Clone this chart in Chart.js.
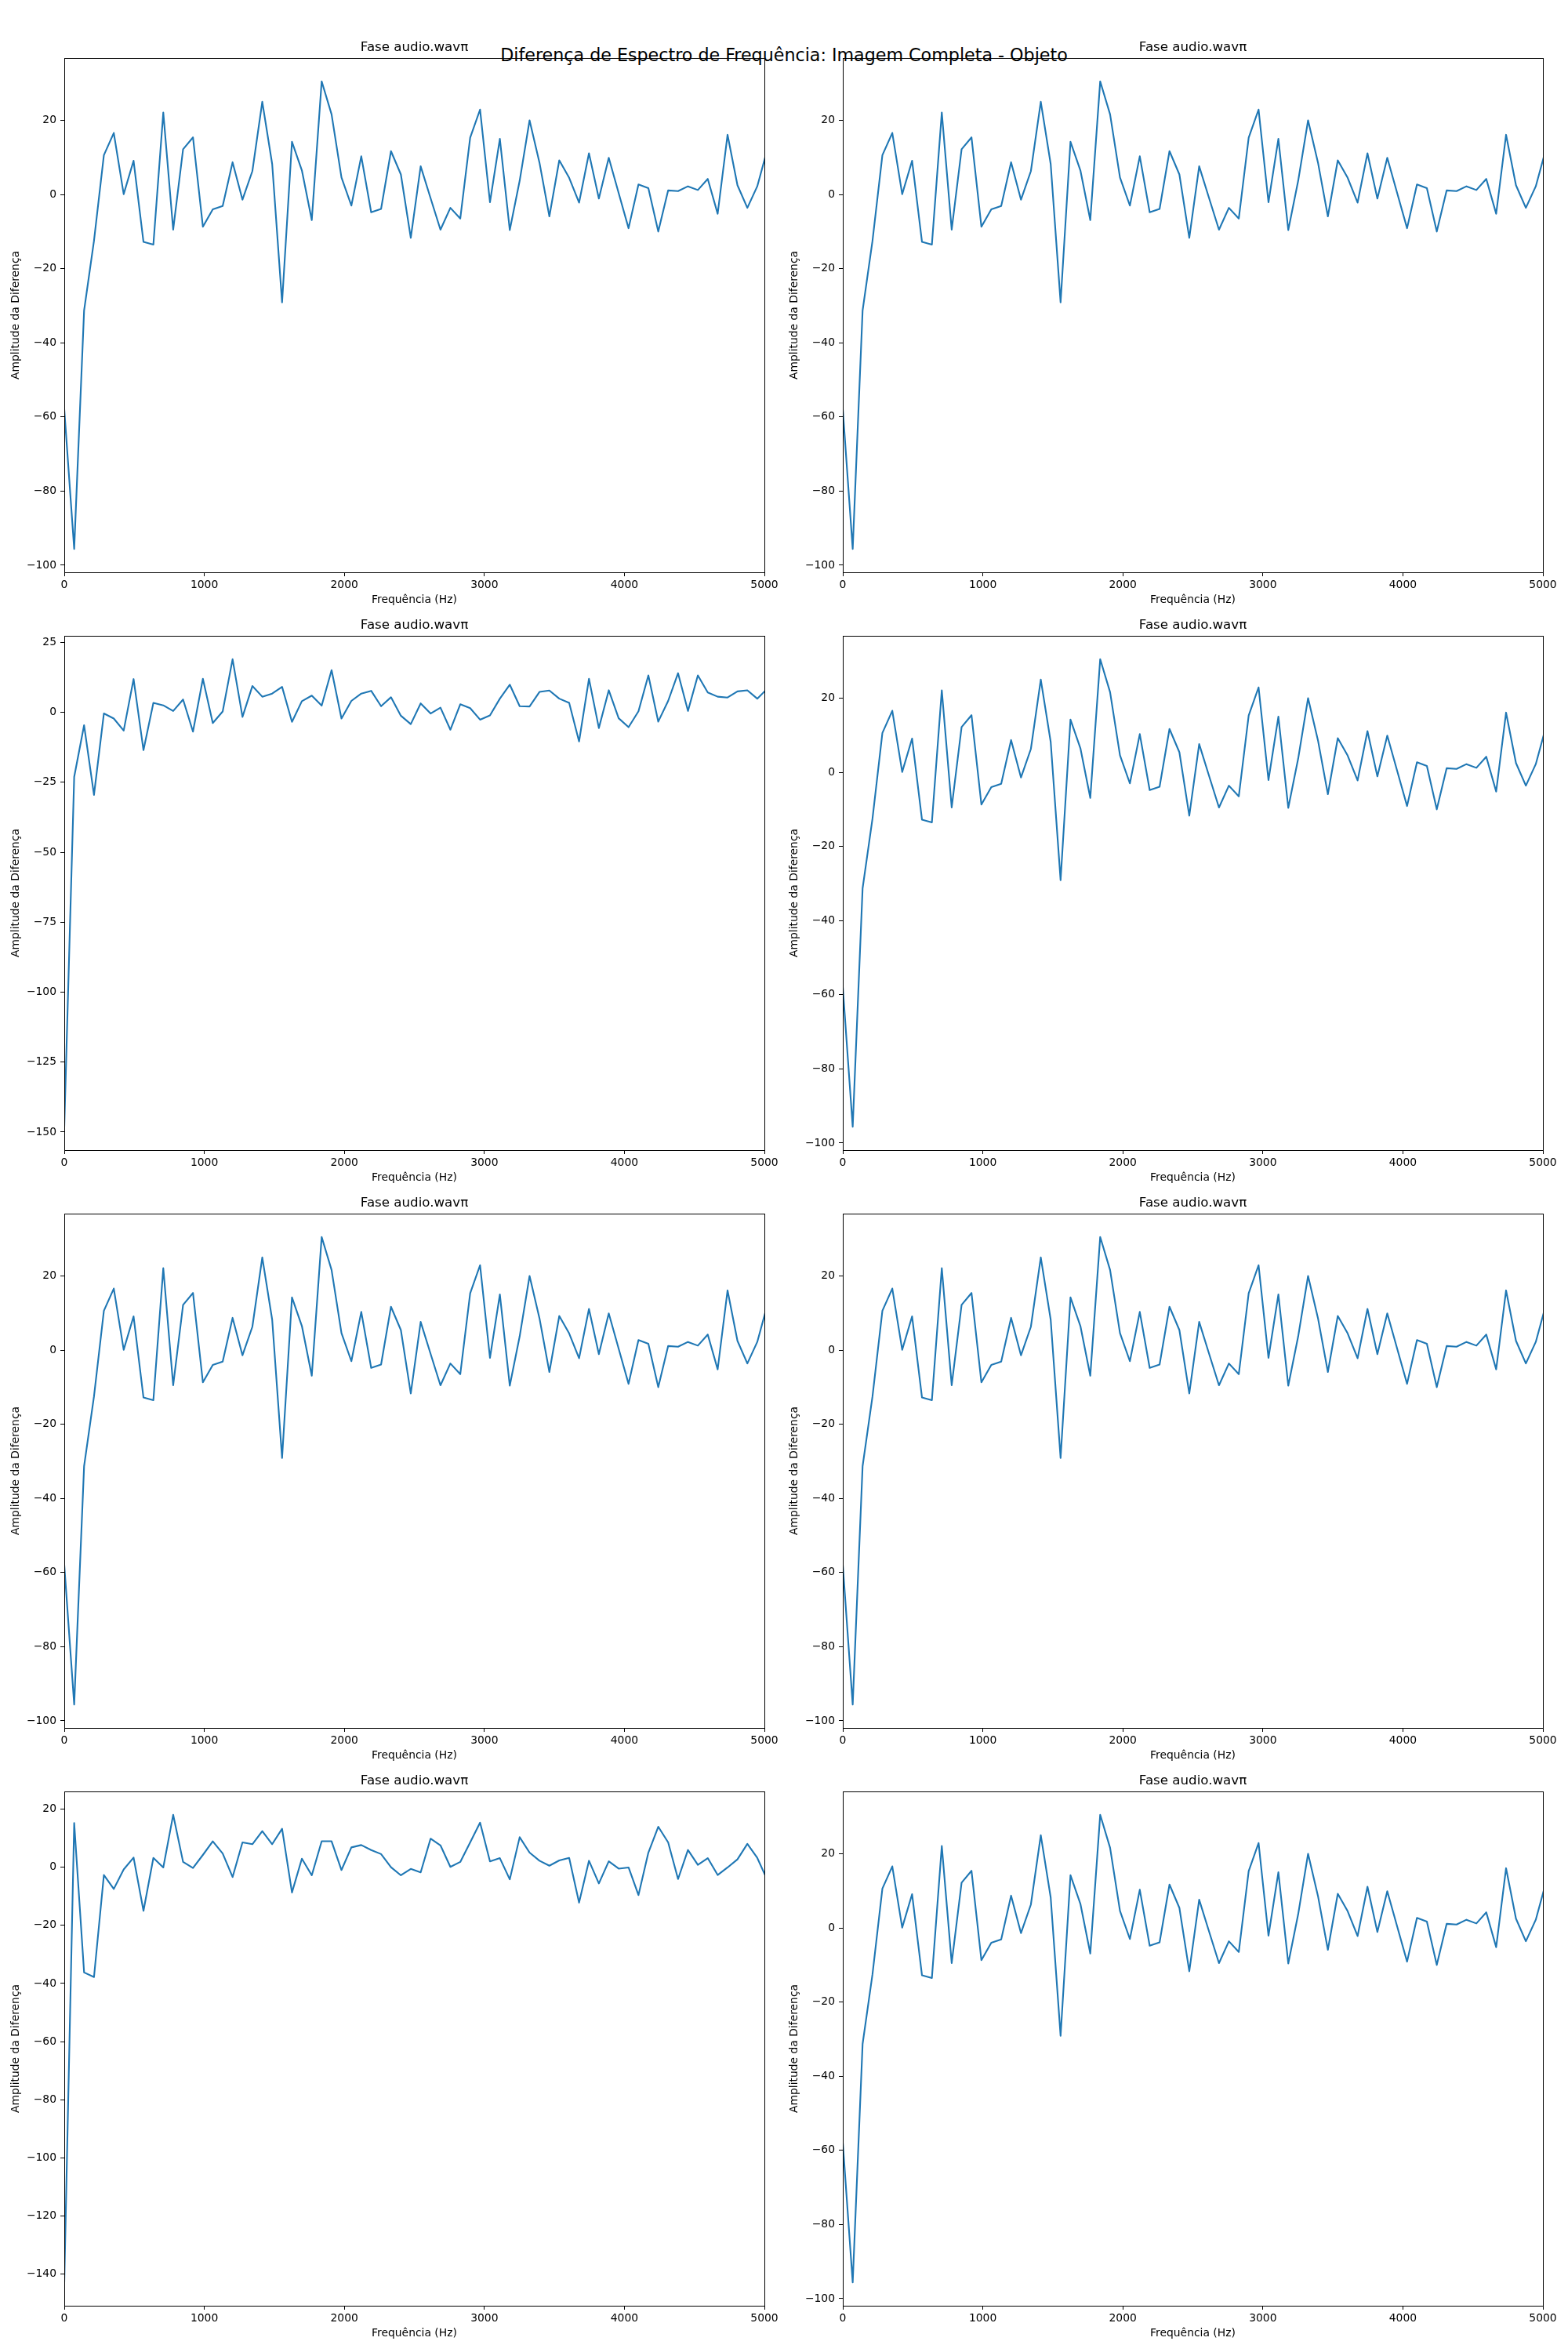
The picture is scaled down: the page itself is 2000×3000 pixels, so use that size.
<!DOCTYPE html>
<html>
<head>
<meta charset="utf-8">
<title>Diferença de Espectro de Frequência</title>
<script src="https://cdn.jsdelivr.net/npm/chart.js@4.4.1/dist/chart.umd.min.js"></script>
<style>
  body { margin: 0; background: #fff; }
  #figure { position: relative; width: 2000px; height: 3000px; }
  #suptitle {
    position: absolute; left: 0; top: 57px; width: 2000px;
    text-align: center; font: 22.2px 'DejaVu Sans'; line-height: 26px; color: #000;
  }
  .panel { position: absolute; }
</style>
</head>
<body>
<div id="figure">
  <div id="suptitle"></div>
</div>
<script>
// Textos
const figTitle = 'Diferença de Espectro de Frequência: Imagem Completa - Objeto';
const panelTitle = 'Fase audio.wavπ';
const xLabel = 'Frequência (Hz)';
const yLabel = 'Amplitude da Diferença';

// Frequências (Hz) de cada ponto
const freqHz = [0, 70.7, 141.4, 212.1, 282.8, 353.5, 424.2, 494.9, 565.6, 636.3,
  707, 777.7, 848.4, 919.1, 989.8, 1060.5, 1131.2, 1201.9, 1272.6, 1343.3,
  1414, 1484.7, 1555.4, 1626.1, 1696.8, 1767.5, 1838.2, 1908.9, 1979.6, 2050.3,
  2121, 2191.7, 2262.4, 2333.1, 2403.8, 2474.5, 2545.2, 2615.9, 2686.6, 2757.3,
  2828, 2898.7, 2969.4, 3040.1, 3110.8, 3181.5, 3252.2, 3322.9, 3393.6, 3464.3,
  3535, 3605.7, 3676.4, 3747.1, 3817.8, 3888.5, 3959.2, 4029.9, 4100.6, 4171.3,
  4242, 4312.7, 4383.4, 4454.1, 4524.8, 4595.5, 4666.2, 4736.9, 4807.6, 4878.3,
  4949, 5019.7];

// Diferença de fase (a maioria dos painéis usa a mesma curva)
const faseA = [-58.0, -95.6, -31.3, -12.5, 10.6, 16.6, 0.1, 9.1, -12.8, -13.5,
  22.1, -9.5, 12.2, 15.4, -8.7, -4.0, -3.1, 8.7, -1.4, 6.3,
  25.0, 8.2, -29.1, 14.2, 6.5, -6.9, 30.5, 21.6, 4.6, -3.0,
  10.3, -4.8, -3.9, 11.7, 5.4, -11.7, 7.6, -1.0, -9.5, -3.6,
  -6.5, 15.3, 22.9, -2.1, 15.0, -9.6, 3.7, 20.0, 8.6, -5.9,
  9.2, 4.5, -2.2, 11.1, -1.1, 9.9, 0.4, -9.1, 2.7, 1.7,
  -10.0, 1.1, 0.9, 2.2, 1.2, 4.2, -5.2, 16.1, 2.5, -3.6,
  2.2, 12.0];

const faseB = [-148.1, -23.1, -4.6, -29.5, -0.4, -2.2, -6.5, 11.9, -13.5, 3.4,
  2.5, 0.5, 4.6, -6.9, 12.0, -3.8, 0.3, 19.0, -1.6, 9.4,
  5.6, 6.7, 9.1, -3.4, 4.0, 6.0, 2.4, 15.1, -2.2, 4.1,
  6.7, 7.7, 2.2, 5.4, -1.2, -4.2, 3.2, -0.4, 1.7, -6.2,
  2.9, 1.5, -2.6, -1.1, 4.9, 9.9, 2.2, 2.1, 7.3, 7.8,
  4.9, 3.4, -10.4, 12.0, -5.6, 7.9, -2.1, -5.3, 0.4, 13.2,
  -3.3, 4.1, 14.0, 0.5, 13.2, 7.1, 5.6, 5.3, 7.5, 7.9,
  4.9, 8.4];

const faseC = [-142.8, 15.2, -36.2, -37.8, -2.7, -7.5, -0.8, 3.3, -15.0, 3.2,
  -0.1, 18.0, 1.8, -0.3, 4.2, 8.9, 4.7, -3.4, 8.5, 7.9,
  12.4, 7.9, 13.2, -8.7, 2.9, -2.8, 8.9, 8.9, -1.0, 6.8,
  7.6, 5.9, 4.5, 0.0, -2.8, -0.6, -1.8, 9.8, 7.5, 0.1,
  1.8, 8.5, 15.3, 2.0, 3.1, -4.2, 10.3, 5.0, 2.2, 0.5,
  2.3, 3.2, -12.2, 2.2, -5.6, 2.0, -0.5, -0.1, -9.6, 5.0,
  13.9, 8.5, -4.1, 5.9, 0.8, 3.1, -2.7, -0.1, 2.7, 8.0,
  3.2, -4.3];

// Marcas dos eixos
const xTicks = [0, 1000, 2000, 3000, 4000, 5000];
const yTicksA = [-100, -80, -60, -40, -20, 0, 20];
const yTicksB = [-150, -125, -100, -75, -50, -25, 0, 25];
const yTicksC = [-140, -120, -100, -80, -60, -40, -20, 0, 20];

// Ordem dos painéis (linha a linha, 2 colunas)
const panelSeries = [faseA, faseA, faseB, faseA, faseA, faseA, faseC, faseA];
const panelTicks = [yTicksA, yTicksA, yTicksB, yTicksA, yTicksA, yTicksA, yTicksC, yTicksA];

// Geometria dos eixos (px)
const colLeft = [82, 1075];
const rowTop = [74, 811, 1548, 2285];
const axW = 893, axH = 656;
const yAxisW = 70, xAxisH = 44, titleH = 23;
const pad = { left: 10, right: 20, top: 10, bottom: 4 };

Chart.defaults.font.family = "'DejaVu Sans'";
Chart.defaults.font.size = 13.89;
Chart.defaults.color = '#000';

document.getElementById('suptitle').textContent = figTitle;

function fmtTick(v) {
    return String(v).replace('-', '\u2212');
}

// Moldura completa da área do gráfico (como o matplotlib)
const framePlugin = {
    id: 'frame',
    afterDraw(chart) {
        const a = chart.chartArea;
        const ctx = chart.ctx;
        const x0 = Math.round(a.left - 0.5) + 0.5;
        const y0 = Math.round(a.top - 0.5) + 0.5;
        const x1 = Math.round(a.right - 0.5) + 0.5;
        const y1 = Math.round(a.bottom - 0.5) + 0.5;
        ctx.save();
        ctx.strokeStyle = '#000';
        ctx.lineWidth = 1;
        ctx.strokeRect(x0, y0, x1 - x0, y1 - y0);
        ctx.restore();
    }
};

function makePanel(idx) {
    const row = Math.floor(idx / 2), col = idx % 2;
    const values = panelSeries[idx];
    const ticks = panelTicks[idx];

    // limites y com margem de 5% (padrão do matplotlib)
    const lo = Math.min(...values), hi = Math.max(...values);
    const margin = (hi - lo) * 0.05;

    const w = pad.left + yAxisW + axW + pad.right;
    const h = pad.top + titleH + axH + xAxisH + pad.bottom;

    const div = document.createElement('div');
    div.className = 'panel';
    div.style.left = (colLeft[col] - pad.left - yAxisW) + 'px';
    div.style.top = (rowTop[row] - pad.top - titleH) + 'px';
    div.style.width = w + 'px';
    div.style.height = h + 'px';
    const canvas = document.createElement('canvas');
    canvas.width = w;
    canvas.height = h;
    div.appendChild(canvas);
    document.getElementById('figure').appendChild(div);

    new Chart(canvas.getContext('2d'), {
        type: 'line',
        data: {
            datasets: [{
                data: freqHz.map((f, i) => ({ x: f, y: values[i] })),
                borderColor: '#1f77b4',
                borderWidth: 2.1,
                borderJoinStyle: 'round',
                pointRadius: 0,
                tension: 0,
                fill: false
            }]
        },
        options: {
            responsive: false,
            animation: false,
            devicePixelRatio: 1,
            events: [],
            layout: { padding: pad },
            plugins: {
                legend: { display: false },
                tooltip: { enabled: false },
                title: {
                    display: true,
                    text: panelTitle,
                    fullSize: false,
                    font: { size: 16.67, weight: 'normal' },
                    padding: { top: 0, bottom: 3 }
                }
            },
            scales: {
                x: {
                    type: 'linear',
                    min: 0,
                    max: 5000,
                    afterBuildTicks: (s) => { s.ticks = xTicks.map(v => ({ value: v })); },
                    afterFit: (s) => { s.height = xAxisH; s.paddingLeft = 0; s.paddingRight = 0; },
                    ticks: { padding: 3, maxRotation: 0, autoSkip: false, callback: (v) => fmtTick(v) },
                    grid: { display: true, drawOnChartArea: false, drawTicks: true, tickLength: 5, tickColor: '#000', tickWidth: 1 },
                    border: { display: true, color: '#000', width: 1 },
                    title: { display: true, text: xLabel, padding: 0 }
                },
                y: {
                    type: 'linear',
                    min: lo - margin,
                    max: hi + margin,
                    afterBuildTicks: (s) => { s.ticks = ticks.map(v => ({ value: v })); },
                    afterFit: (s) => { s.width = yAxisW; s.paddingTop = 0; s.paddingBottom = 0; },
                    ticks: { padding: 5, autoSkip: false, callback: (v) => fmtTick(v) },
                    grid: { display: true, drawOnChartArea: false, drawTicks: true, tickLength: 5, tickColor: '#000', tickWidth: 1 },
                    border: { display: true, color: '#000', width: 1 },
                    title: { display: true, text: yLabel, padding: 0 }
                }
            }
        },
        plugins: [framePlugin]
    });
}

for (let i = 0; i < panelSeries.length; i++) {
    makePanel(i);
}
</script>
</body>
</html>
